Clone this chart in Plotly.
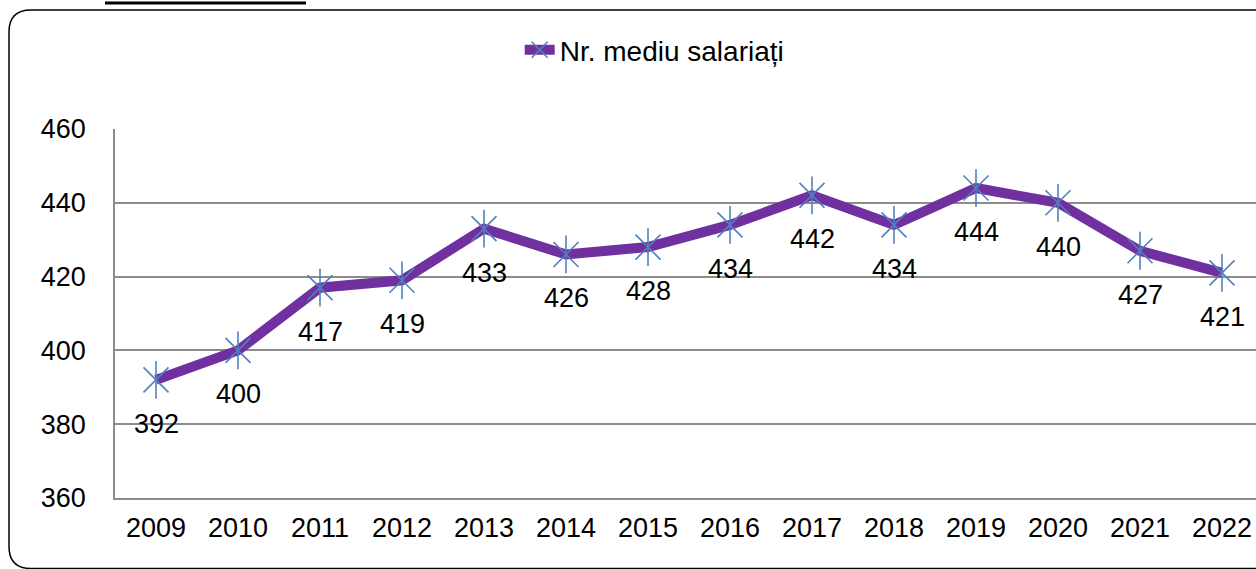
import plotly.graph_objects as go

years = ["2009", "2010", "2011", "2012", "2013", "2014", "2015", "2016", "2017", "2018", "2019", "2020", "2021", "2022"]
values = [392, 400, 417, 419, 433, 426, 428, 434, 442, 434, 444, 440, 427, 421]
series_name = "Nr. mediu salariați"
y_ticks = [360, 380, 400, 420, 440, 460]

W, H = 1256, 569
ML, MR, MT, MB = 115, 0, 129, 71
PW = W - ML - MR
PH = H - MT - MB
FONT = "Liberation Sans, Arial"

def px(x):
    return (x - ML) / PW

def py(y):
    return 1 - (y - MT) / PH

fig = go.Figure()
fig.add_trace(go.Scatter(
    x=years, y=values, mode="lines+markers", name=series_name,
    line=dict(color="#7030A0", width=10),
    marker=dict(symbol="x-thin-open", size=25, color="#4F81BD",
                line=dict(color="#4F81BD", width=1.6)),
))
fig.add_trace(go.Scatter(
    x=years, y=values, mode="markers", showlegend=False, hoverinfo="skip",
    marker=dict(symbol="line-ns-open", size=27, color="#4F81BD",
                line=dict(color="#4F81BD", width=1.6)),
))

for i, v in enumerate(values):
    fig.add_annotation(x=i, y=v, xref="x", yref="y", text=str(v), showarrow=False,
                       yshift=-44, font=dict(size=27, color="black", family=FONT))

# rounded border (extends beyond right/bottom)
l, t, r, b, rad = 9, 10, 1270, 568.5, 22
path = (f"M {px(l)} {py(t+rad)} Q {px(l)} {py(t)} {px(l+rad)} {py(t)} "
        f"L {px(r)} {py(t)} M {px(l)} {py(t+rad)} L {px(l)} {py(b-rad)} "
        f"Q {px(l)} {py(b)} {px(l+rad)} {py(b)} L {px(r)} {py(b)}")
fig.add_shape(type="path", path=path, xref="paper", yref="paper",
              line=dict(color="black", width=1.5), layer="above")
fig.add_shape(type="line", xref="paper", yref="paper",
              x0=px(105), x1=px(306), y0=py(3), y1=py(3),
              line=dict(color="black", width=3))

fig.update_layout(
    width=W, height=H,
    margin=dict(l=ML, r=MR, t=MT, b=MB),
    paper_bgcolor="white", plot_bgcolor="white",
    font=dict(family=FONT, size=27, color="black"),
    showlegend=True,
    legend=dict(orientation="h", x=0.473, xanchor="center", y=py(50), yanchor="middle",
                font=dict(size=28), bgcolor="rgba(0,0,0,0)"),
    xaxis=dict(type="category", range=[-0.5, -0.5 + PW / 82.0],
               showgrid=False, showline=True, linecolor="#8c8c8c", linewidth=1.5,
               ticks="", ticklabelstandoff=5, tickfont=dict(size=27)),
    yaxis=dict(range=[360, 460], tickvals=y_ticks, showgrid=True,
               gridcolor="#8c8c8c", gridwidth=1.5, showline=True,
               linecolor="#8c8c8c", linewidth=1.5, ticks="", zeroline=False,
               ticklabelstandoff=22, tickfont=dict(size=27)),
)

fig.write_html("out.html", config={"displayModeBar": False},
               post_script="document.body.style.margin='0';document.body.style.overflow='hidden';")
